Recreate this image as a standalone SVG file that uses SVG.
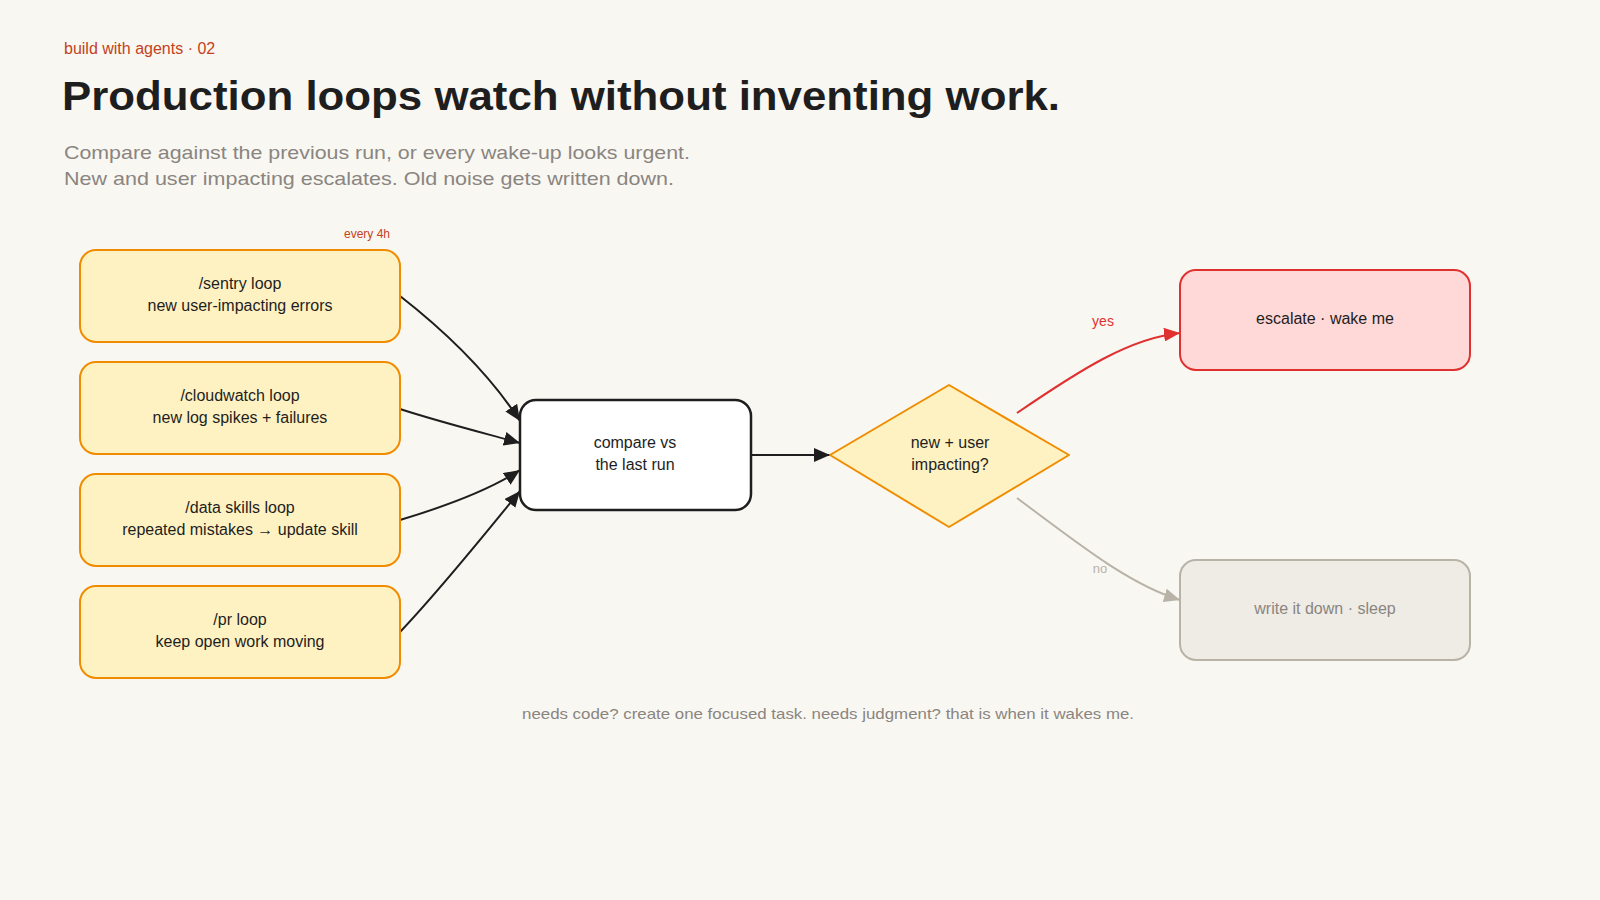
<svg xmlns="http://www.w3.org/2000/svg" width="1600" height="900" viewBox="0 0 1600 900">
<style>
text{font-family:"Liberation Sans","DejaVu Sans",sans-serif}
.kicker{font-size:16px;fill:#c4421a}
.title{font-size:40px;fill:#1e1e1e;font-weight:bold}
.sub{font-size:19px;fill:#8a8580}
.lbl{font-size:16px;fill:#1e1e1e;text-anchor:middle}
.src rect{fill:#fff2c2;stroke:#f08c00;stroke-width:2}
.note{font-size:15px;fill:#8a8580;text-anchor:middle}
.edge{fill:none;stroke-width:2}
</style>
<defs>
<marker id="ah" viewBox="0 0 16 14" refX="16" refY="7" markerWidth="16" markerHeight="14" markerUnits="userSpaceOnUse" orient="auto"><path d="M0,0 L16,7 L0,14 Z" fill="#1e1e1e"/></marker>
<marker id="ahr" viewBox="0 0 16 14" refX="16" refY="7" markerWidth="16" markerHeight="14" markerUnits="userSpaceOnUse" orient="auto"><path d="M0,0 L16,7 L0,14 Z" fill="#e03131"/></marker>
<marker id="ahg" viewBox="0 0 16 14" refX="16" refY="7" markerWidth="16" markerHeight="14" markerUnits="userSpaceOnUse" orient="auto"><path d="M0,0 L16,7 L0,14 Z" fill="#b8b2a7"/></marker>
</defs>
<rect width="1600" height="900" fill="#f9f7f2"/>
<text class="kicker" x="64" y="54">build with agents · 02</text>
<text class="title" x="62" y="110" textLength="998" lengthAdjust="spacingAndGlyphs">Production loops watch without inventing work.</text>
<text class="sub" x="64" y="159" textLength="626" lengthAdjust="spacingAndGlyphs">Compare against the previous run, or every wake-up looks urgent.</text>
<text class="sub" x="64" y="185" textLength="610" lengthAdjust="spacingAndGlyphs">New and user impacting escalates. Old noise gets written down.</text>

<g id="connectors">
<path class="edge" stroke="#1e1e1e" marker-end="url(#ah)" d="M400,296 C450,335 490,375 520,421"/>
<path class="edge" stroke="#1e1e1e" marker-end="url(#ah)" d="M400,409 C440,422 480,432 520,443"/>
<path class="edge" stroke="#1e1e1e" marker-end="url(#ah)" d="M400,520 C450,505 490,490 520,470"/>
<path class="edge" stroke="#1e1e1e" marker-end="url(#ah)" d="M400,632 C440,590 480,540 520,491"/>
<path class="edge" stroke="#1e1e1e" marker-end="url(#ah)" d="M751,455 L830,455"/>
<path class="edge" stroke="#e03131" marker-end="url(#ahr)" d="M1017,413 C1080,370 1130,338 1180,333"/>
<path class="edge" stroke="#b8b2a7" marker-end="url(#ahg)" d="M1017,498 C1080,545 1130,585 1180,600"/>
<text x="1103" y="326" font-size="14" fill="#e03131" text-anchor="middle">yes</text>
<text x="1100" y="573" font-size="13" fill="#b8b2a7" text-anchor="middle">no</text>
</g>

<g id="sentry" class="src">
<rect x="80" y="250" width="320" height="92" rx="16"/>
<text class="lbl" x="240" y="289">/sentry loop</text>
<text class="lbl" x="240" y="311">new user-impacting errors</text>
<text x="390" y="238" font-size="12" fill="#c4421a" text-anchor="end">every 4h</text>
</g>
<g id="cloudwatch" class="src">
<rect x="80" y="362" width="320" height="92" rx="16"/>
<text class="lbl" x="240" y="401">/cloudwatch loop</text>
<text class="lbl" x="240" y="423">new log spikes + failures</text>
</g>
<g id="dataskills" class="src">
<rect x="80" y="474" width="320" height="92" rx="16"/>
<text class="lbl" x="240" y="513">/data skills loop</text>
<text class="lbl" x="240" y="535">repeated mistakes → update skill</text>
</g>
<g id="pr" class="src">
<rect x="80" y="586" width="320" height="92" rx="16"/>
<text class="lbl" x="240" y="625">/pr loop</text>
<text class="lbl" x="240" y="647">keep open work moving</text>
</g>

<g id="compare">
<rect x="520" y="400" width="231" height="110" rx="16" fill="#ffffff" stroke="#1e1e1e" stroke-width="2.5"/>
<text class="lbl" x="635" y="448">compare vs</text>
<text class="lbl" x="635" y="470">the last run</text>
</g>

<g id="decision">
<path d="M830,455 L949,385 L1069,455 L949,527 Z" fill="#fff2c2" stroke="#f08c00" stroke-width="2" stroke-linejoin="round"/>
<text class="lbl" x="950" y="448">new + user</text>
<text class="lbl" x="950" y="470">impacting?</text>
</g>

<g id="escalate">
<rect x="1180" y="270" width="290" height="100" rx="16" fill="#ffd8d8" stroke="#e03131" stroke-width="2"/>
<text class="lbl" x="1325" y="324">escalate · wake me</text>
</g>

<g id="writedown">
<rect x="1180" y="560" width="290" height="100" rx="16" fill="#efece6" stroke="#b8b2a7" stroke-width="2"/>
<text class="lbl" x="1325" y="614" style="fill:#8a8580">write it down · sleep</text>
</g>

<text class="note" x="828" y="719" textLength="612" lengthAdjust="spacingAndGlyphs">needs code? create one focused task. needs judgment? that is when it wakes me.</text>
</svg>
